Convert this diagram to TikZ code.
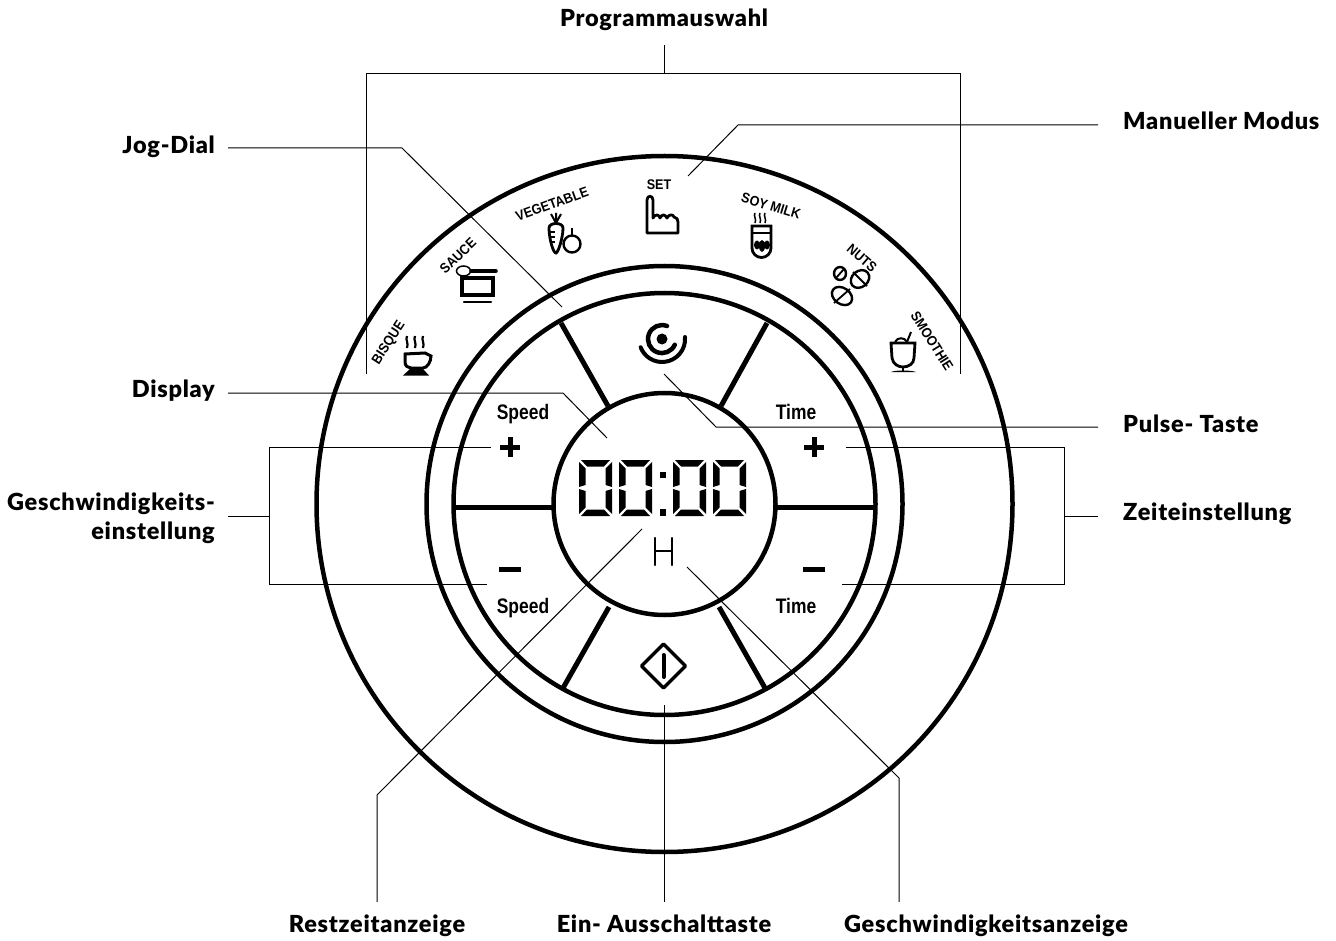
\documentclass[tikz,border=0pt]{standalone}
\usepackage{fontspec}
\setmainfont{Lato}[BoldFont={Lato Black}, LetterSpace=3.2]
\newfontfamily\panelfont{Liberation Sans}[FakeStretch=0.83]
\newfontfamily\modefont{Liberation Sans}[FakeStretch=0.9]
\usetikzlibrary{positioning, calc}
\tikzset{
    ring/.style={line width=4.5pt},
    spoke/.style={line width=5pt},
    leader/.style={line width=1pt},
    icon/.style={line width=2.8pt},
    mainfont/.style={font=\fontsize{23.5}{29}\selectfont\bfseries},
    mainlabel/.style={mainfont, text height=18pt, text depth=3pt, inner xsep=13pt, inner ysep=3pt},
    rightlabel/.style={mainlabel, anchor=west, inner xsep=25pt},
    paneltext/.style={font=\panelfont\bfseries\fontsize{21}{24}\selectfont, inner sep=0pt, anchor=base},
    modetext/.style={font=\modefont\bfseries\fontsize{14}{16}\selectfont, inner sep=0pt},
}
\begin{document}
\begin{tikzpicture}[x=1pt,y=-1pt]
        \useasboundingbox (0,0) rectangle (1336,941);
        \coordinate (c) at (664.5,504);
        % rings
        \draw[ring] (c) circle[radius=348];
        \draw[ring] (c) circle[radius=238];
        \draw[ring] (c) circle[radius=211];
        \draw[ring] (c) circle[radius=111];
        \foreach \xa/\ya/\xb/\yb in {453/507/554/507, 775/507/875/507, 561/323/608/406, 767/323/721/406, 563/688/609/607, 765/688/719/607} {
            \draw[spoke] (\xa,\ya) -- (\xb,\yb);
        }
        % display digits
        \foreach \lcdx in {579,619,673,713} {
            \begin{scope}[shift={(\lcdx,460)}]
            \fill (2,0) -- (31,0) -- (25,6.5) -- (8,6.5) -- cycle;
            \fill (2,56) -- (31,56) -- (25,49.5) -- (8,49.5) -- cycle;
            \fill (0,2) -- (6.5,8.5) -- (6.5,25) -- (0,27) -- cycle;
            \fill (33,2) -- (26.5,8.5) -- (26.5,25) -- (33,27) -- cycle;
            \fill (0,29) -- (6.5,31) -- (6.5,47.5) -- (0,54) -- cycle;
            \fill (33,29) -- (26.5,31) -- (26.5,47.5) -- (33,54) -- cycle;
            \end{scope}
        }
        \fill (660,472) rectangle (666,478);
        \fill (660,509) rectangle (666,516);
        \draw[line width=2.2pt, line cap=round] (655,538) -- (655,565) (672,538) -- (672,565) (656,551) -- (671,551);
        % keys
        \node[paneltext] (speedup) at (523,419) {Speed};
        \node[paneltext] (speeddown) at (523,613) {Speed};
        \node[paneltext] (timeup) at (796,419) {Time};
        \node[paneltext] (timedown) at (796,613) {Time};
        \foreach \kx in {510,814} {
            \fill (\kx-10,445) rectangle (\kx+10,449.5);
            \fill (\kx-2.5,437) rectangle (\kx+2.5,457);
            \fill (\kx-11,567) rectangle (\kx+11,572);
        }
        % pulse key
        \fill (662,339) circle[radius=5.5];
        \draw[line width=4.5pt, line cap=round] (667,326) arc[start angle=-69, end angle=-336, radius=14];
        \draw[line width=4pt, line cap=round] (685,337) arc[start angle=-5, end angle=159, radius=23];
        % start key
        \draw[line width=3.5pt, line join=round] (663.5,644) -- (685.5,666) -- (663.5,688) -- (641.5,666) -- cycle;
        \draw[line width=4pt, line cap=round] (663.5,655) -- (663.5,677);
        % programme names
        \node[modetext, rotate=57] (bisque) at (389,343) {BISQUE};
        \node[modetext, rotate=44] (sauce) at (458,256) {SAUCE};
        \node[modetext, rotate=20] (vegetable) at (552,204) {VEGETABLE};
        \node[modetext] (set) at (659,185) {SET};
        \node[modetext, rotate=-17] (soymilk) at (771,206) {SOY MILK};
        \node[modetext, rotate=-41] (nuts) at (862,258) {NUTS};
        \node[modetext, rotate=-58] (smoothie) at (932,341) {SMOOTHIE};
        % bisque icon
        \draw[line width=2.2pt] (407,336) .. controls (405,340) and (409,343) .. (407,348) (415,336) .. controls (413,340) and (417,343) .. (415,348) (423,336) .. controls (421,340) and (425,343) .. (423,348);
        \draw[icon, line width=3pt] (405,354) -- (405,362) .. controls (405,366) and (408,368) .. (411,368) -- (423,368) .. controls (427,368) and (431,362) .. (431,356) -- (425,353) -- cycle;
        \fill (410,369) -- (423,369) -- (429,375.5) -- (403,375.5) -- cycle;
        % sauce icon
        \draw[line width=1.5pt] (463.5,271) ellipse[x radius=7, y radius=5];
        \draw[line width=3.5pt, line cap=round] (471,271) -- (496,271);
        \draw[line width=3.5pt] (462,278) rectangle (493,295);
        \draw[line width=2.5pt, line cap=round] (464,302) -- (491,302);
        % vegetable icon
        \draw[icon] (549,228) .. controls (549,222) and (563,222) .. (563,228) .. controls (563,238) and (558,253) .. (556,253) .. controls (553,253) and (549,238) .. (549,228) -- cycle;
        \draw[line width=2pt] (556,223) -- (551,214) (556,223) -- (556,213) (556,223) -- (561,214);
        \draw[line width=1.6pt] (550,232) -- (555,232) (551,237) -- (555,237) (552,242) -- (555,242);
        \draw[line width=2.4pt] (572,244) circle[radius=8.5];
        \draw[line width=2.2pt] (572,228) -- (572,236);
        % set icon
        \draw[icon, line join=round] (647,233) -- (647,200) .. controls (647,195) and (653,195) .. (653,200) -- (653,218) .. controls (655,214) and (659,214) .. (660,218) .. controls (662,214) and (665,214) .. (667,218) .. controls (669,214) and (673,214) .. (674,217) .. controls (677,218) and (678,219) .. (678,222) -- (678,233) -- cycle;
        % soy milk icon
        \draw[line width=1.5pt] (755,213) .. controls (753,216) and (757,219) .. (755,223) (760,213) .. controls (758,216) and (762,219) .. (760,223) (765,213) .. controls (763,216) and (767,219) .. (765,223);
        \draw[icon] (752,226) -- (752,248) arc[start angle=180, end angle=0, radius=9.5] -- (771,226) -- cycle;
        \draw[line width=1.5pt] (752,233) -- (771,233);
        \fill (757,245) ellipse[x radius=3, y radius=4.5] (762,246) ellipse[x radius=3, y radius=6] (767,245) ellipse[x radius=3, y radius=4.5];
        % nuts icon
        \draw[line width=2.4pt] (840,273.5) ellipse[x radius=6, y radius=6.5];
        \draw[line width=1.8pt] (836,278) -- (844,269);
        \draw[line width=2.4pt, rotate around={40:(860,279)}] (860,279) ellipse[x radius=10, y radius=8];
        \draw[line width=1.8pt] (853,272) -- (867,286);
        \draw[line width=2.4pt, rotate around={-35:(842,296)}] (842,296) ellipse[x radius=11, y radius=8];
        \draw[line width=1.8pt] (834,303) -- (850,289);
        % smoothie icon
        \draw[icon] (891,343) -- (892,358) .. controls (893,364) and (898,367) .. (903,367) .. controls (908,367) and (914,364) .. (914,358) -- (915,343) -- cycle;
        \draw[line width=2pt] (895,342) .. controls (897,337) and (905,337) .. (907,342);
        \draw[line width=2pt] (907,342) -- (911,332);
        \draw[line width=2.5pt] (903,367) -- (903,371);
        \fill (891,372) .. controls (895,370) and (911,370) .. (916,372) -- cycle;
        % labels
        \node[mainlabel, inner ysep=15pt] (program) at (664,19.5) {Programmauswahl};
        \node[mainlabel, anchor=east] (jogdial) at (228,146) {Jog-Dial};
        \node[rightlabel] (manual) at (1098,122.5) {Manueller Modus};
        \node[mainlabel, anchor=east] (display) at (228,390) {Display};
        \node[rightlabel] (pulse) at (1098,424.5) {Pulse- Taste};
        \node[mainfont, inner xsep=13pt, anchor=east, align=right] (speedset) at (228,518) {Geschwindigkeits-\\einstellung};
        \node[rightlabel] (timeset) at (1098,513) {Zeiteinstellung};
        \node[mainlabel, inner ysep=12pt] (remain) at (377,924.5) {Restzeitanzeige};
        \node[mainlabel, inner ysep=12pt] (onoff) at (664,924.5) {Ein- Ausschalttaste};
        \node[mainlabel, inner ysep=12pt] (speedshow) at (986,924.5) {Geschwindigkeitsanzeige};
        % leader points
        \coordinate (progleft) at (366,74);
        \coordinate (progright) at (960,74);
        \coordinate (progleftend) at (366,374);
        \coordinate (progrightend) at (960,374);
        \coordinate (progmid) at (664,74);
        \coordinate (jogbend) at (402,148);
        \coordinate (jogend) at (562,307);
        \coordinate (manbend) at (738,125);
        \coordinate (manend) at (688,176);
        \coordinate (dispbend) at (563,393);
        \coordinate (dispend) at (607,438);
        \coordinate (pulsebend) at (716,427);
        \coordinate (pulseend) at (664,374);
        \coordinate (speedbar) at (269,516);
        \coordinate (speedtop) at (269,447);
        \coordinate (speedbot) at (269,584);
        \coordinate (speedtopend) at (491,447);
        \coordinate (speedbotend) at (487,584);
        \coordinate (timebar) at (1064,516);
        \coordinate (timetop) at (1064,447);
        \coordinate (timebot) at (1064,584);
        \coordinate (timetopend) at (846,447);
        \coordinate (timebotend) at (842,584);
        \coordinate (remainbend) at (377,795);
        \coordinate (remainend) at (642,529);
        \coordinate (onoffend) at (664,705);
        \coordinate (showbend) at (899,778);
        \coordinate (showend) at (687,567);
        % leaders
        \draw[leader] (program.south) -- (progmid);
        \draw[leader] (progleftend) -- (progleft) -- (progright) -- (progrightend);
        \draw[leader] (jogdial.east |- jogbend) -- (jogbend) -- (jogend);
        \draw[leader] (manual.west |- manbend) -- (manbend) -- (manend);
        \draw[leader] (display.east |- dispbend) -- (dispbend) -- (dispend);
        \draw[leader] (pulse.west |- pulsebend) -- (pulsebend) -- (pulseend);
        \draw[leader] (speedset.east |- speedbar) -- (speedbar);
        \draw[leader] (speedtopend) -- (speedtop) -- (speedbot) -- (speedbotend);
        \draw[leader] (timeset.west |- timebar) -- (timebar);
        \draw[leader] (timetopend) -- (timetop) -- (timebot) -- (timebotend);
        \draw[leader] (remain.north) -- (remainbend) -- (remainend);
        \draw[leader] (onoff.north) -- (onoffend);
        \draw[leader] (speedshow.north -| showbend) -- (showbend) -- (showend);
\end{tikzpicture}
\end{document}
